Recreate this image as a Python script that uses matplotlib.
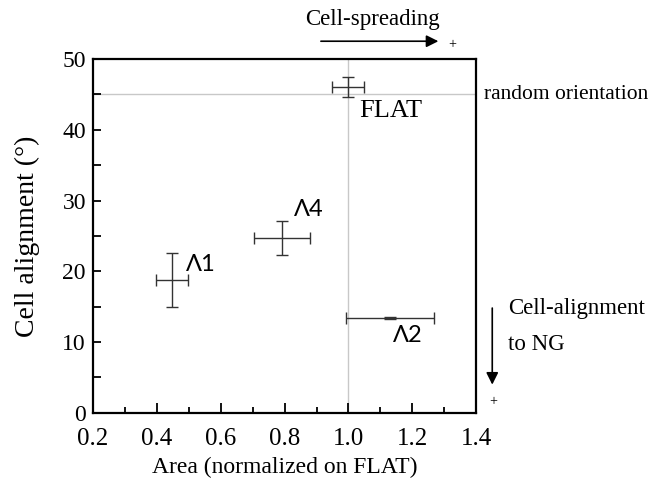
import matplotlib
matplotlib.use('Agg')
import matplotlib.pyplot as plt
from matplotlib.ticker import MultipleLocator, FormatStrFormatter

# samples: normalized area and alignment angle, with error bars
names = ['FLAT', 'Λ1', 'Λ4', 'Λ2']
area = [1.0, 0.447, 0.792, 1.131]
area_err = [0.05, 0.05, 0.088, 0.138]
align = [46.0, 18.8, 24.7, 13.4]
align_err = [1.4, 3.8, 2.4, 0.2]

# label positions next to each point (data coords)
label_x = [1.033, 0.491, 0.83, 1.14]
label_y = [42.7, 20.9, 28.7, 10.9]

plt.rcParams['font.family'] = ['Liberation Serif', 'DejaVu Serif']

fig = plt.figure(figsize=(6.68, 4.79), dpi=100)
ax = fig.add_axes([0.139, 0.138, 0.574, 0.739])

# reference lines: FLAT area and random orientation
ax.axvline(1.0, color='#c8c8c8', lw=1, zorder=0)
ax.axhline(45, color='#c8c8c8', lw=1, zorder=0)

ax.errorbar(area, align, xerr=area_err, yerr=align_err, fmt='none',
            ecolor='#333333', elinewidth=1, capsize=4, capthick=1)

for name, lx, ly in zip(names, label_x, label_y):
    if name == 'FLAT':
        ax.text(lx, ly, name, fontsize=19, va='center', ha='left')
    else:
        ax.text(lx, ly, name, fontsize=17, va='center', ha='left',
                family=['Lato', 'DejaVu Sans'])

ax.set_xlim(0.2, 1.4)
ax.set_ylim(0, 50)
ax.xaxis.set_major_locator(MultipleLocator(0.2))
ax.xaxis.set_minor_locator(MultipleLocator(0.1))
ax.yaxis.set_major_locator(MultipleLocator(10))
ax.yaxis.set_minor_locator(MultipleLocator(5))
ax.xaxis.set_major_formatter(FormatStrFormatter('%.1f'))
ax.tick_params(which='both', direction='in', width=1.3)
ax.tick_params(axis='x', which='major', length=7, labelsize=18, pad=11)
ax.tick_params(axis='x', which='minor', length=4)
ax.tick_params(axis='y', which='both', length=6)
ax.tick_params(axis='y', labelsize=17, pad=5)
for s in ax.spines.values():
    s.set_linewidth(1.6)

ax.set_xlabel('Area (normalized on FLAT)', fontsize=17, labelpad=5)
ax.set_ylabel('Cell alignment (°)', fontsize=20, labelpad=16)

# direction hints outside the axes
ax.annotate('', xy=(1.29, 52.5), xytext=(0.905, 52.5), annotation_clip=False,
            arrowprops=dict(arrowstyle='-|>', color='black', lw=1.2,
                            mutation_scale=18))
ax.text(1.076, 55.6, 'Cell-spreading', fontsize=16.5, ha='center', va='center',
        clip_on=False)
ax.text(1.325, 52.0, '+', fontsize=10, ha='center', va='center', clip_on=False)
ax.text(1.425, 45, 'random orientation', fontsize=15.5, ha='left', va='center',
        clip_on=False)
ax.annotate('', xy=(1.45, 3.6), xytext=(1.45, 15.2), annotation_clip=False,
            arrowprops=dict(arrowstyle='-|>', color='black', lw=1.2,
                            mutation_scale=18))
ax.text(1.453, 1.6, '+', fontsize=10, ha='center', va='center', clip_on=False)
ax.text(1.50, 14.7, 'Cell-alignment', fontsize=16.5, ha='left', va='center',
        clip_on=False)
ax.text(1.50, 9.6, 'to NG', fontsize=16.5, ha='left', va='center',
        clip_on=False)

fig.savefig('out.png', dpi=100)
